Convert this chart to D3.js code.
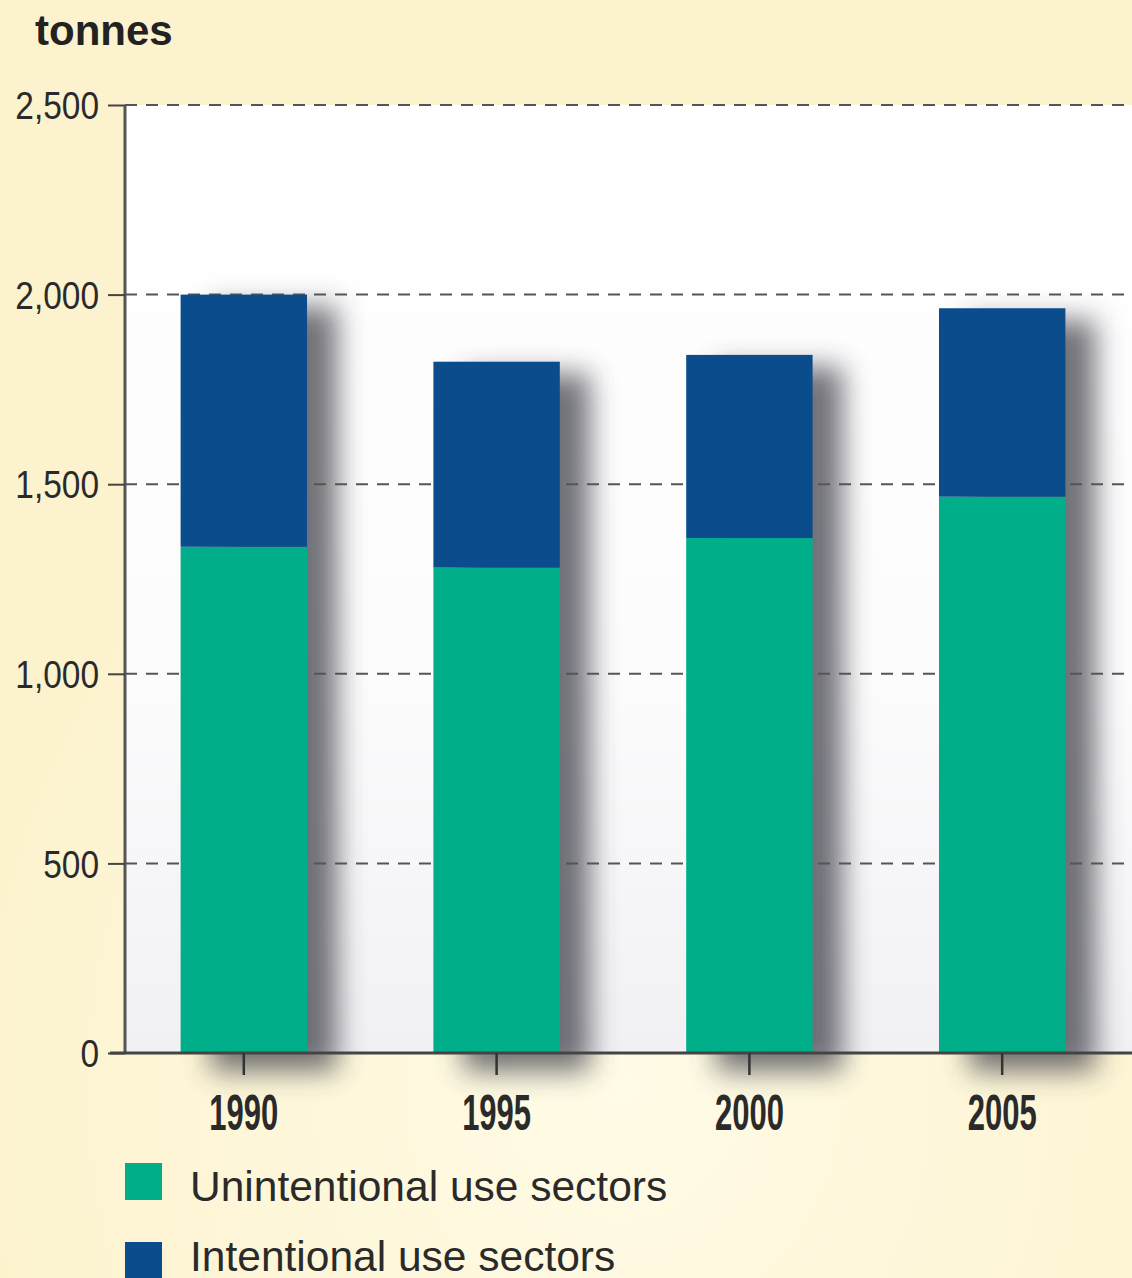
<!DOCTYPE html>
<html>
<head>
<meta charset="utf-8">
<script src="https://cdn.jsdelivr.net/npm/d3@7"></script>
<style>
  html, body { margin: 0; padding: 0; background: #fdf5d3; }
  svg { display: block; }
</style>
</head>
<body>
<svg id="chart" width="1132" height="1278"></svg>
<script>
// values (tonnes)
const years = ['1990', '1995', '2000', '2005'];
const unintentional = [1335, 1280, 1358, 1467];
const intentional = [665, 543, 483, 497];
const yTicks = [0, 500, 1000, 1500, 2000, 2500];
const seriesNames = ['Unintentional use sectors', 'Intentional use sectors'];
const seriesColors = ['#00af8a', '#0a4c8c'];

const svg = d3.select('#chart');
const width = 1132;
const height = 1278;

const plotLeft = 125;
const plotTop = 105;
const plotBottom = 1053;

const x = d3.scaleBand()
    .domain(years)
    .range([plotLeft, 1121])
    .paddingInner(0.5)
    .paddingOuter(0.22);

const y = d3.scaleLinear()
    .domain([0, 2500])
    .range([plotBottom, plotTop]);

// stacked layout built from the arrays
const rows = years.map((yr, i) => ({ year: yr, unintentional: unintentional[i], intentional: intentional[i] }));
const stack = d3.stack().keys(['unintentional', 'intentional'])(rows);

const defs = svg.append('defs');

// plot background: white, going a touch grey towards the bottom
const bgGrad = defs.append('linearGradient')
    .attr('id', 'plotbg')
    .attr('x1', 0).attr('y1', 0).attr('x2', 0).attr('y2', 1);
bgGrad.append('stop').attr('offset', '0%').attr('stop-color', '#ffffff');
bgGrad.append('stop').attr('offset', '60%').attr('stop-color', '#fcfcfd');
bgGrad.append('stop').attr('offset', '100%').attr('stop-color', '#f1f1f4');

const pageGrad = defs.append('radialGradient')
    .attr('id', 'pagebg')
    .attr('cx', '55%').attr('cy', '85%').attr('r', '60%');
pageGrad.append('stop').attr('offset', '0%').attr('stop-color', '#fffbe6');
pageGrad.append('stop').attr('offset', '100%').attr('stop-color', '#fcf2cd');

const blur = defs.append('filter')
    .attr('id', 'shadow')
    .attr('x', '-50%').attr('y', '-20%')
    .attr('width', '200%').attr('height', '140%');
blur.append('feGaussianBlur').attr('stdDeviation', 14);

svg.append('rect')
    .attr('width', width)
    .attr('height', height)
    .attr('fill', 'url(#pagebg)');

svg.append('rect')
    .attr('x', plotLeft)
    .attr('y', plotTop)
    .attr('width', width - plotLeft)
    .attr('height', plotBottom - plotTop)
    .attr('fill', 'url(#plotbg)');

// soft shadows behind the bars
svg.append('g')
    .selectAll('rect')
    .data(rows)
    .join('rect')
    .attr('x', d => x(d.year) + 30)
    .attr('y', d => y(d.unintentional + d.intentional) + 12)
    .attr('width', x.bandwidth())
    .attr('height', d => plotBottom - y(d.unintentional + d.intentional) + 6)
    .attr('fill', '#3a3a44')
    .attr('opacity', 0.72)
    .attr('filter', 'url(#shadow)');

// dashed grid lines
svg.append('g')
    .selectAll('line')
    .data(yTicks.filter(t => t > 0))
    .join('line')
    .attr('x1', plotLeft)
    .attr('x2', width)
    .attr('y1', d => y(d))
    .attr('y2', d => y(d))
    .attr('stroke', '#555')
    .attr('stroke-width', 2)
    .attr('stroke-dasharray', '12,9');

// bars
svg.append('g')
    .selectAll('g')
    .data(stack)
    .join('g')
    .attr('fill', (d, i) => seriesColors[i])
    .selectAll('rect')
    .data(d => d)
    .join('rect')
    .attr('x', d => x(d.data.year))
    .attr('y', d => y(d[1]))
    .attr('width', x.bandwidth())
    .attr('height', d => y(d[0]) - y(d[1]));

const fontFamily = '"Liberation Sans", Arial, sans-serif';

// y axis, labels squeezed horizontally like the narrow face of the original
const yAxis = svg.append('g')
    .attr('transform', `translate(${plotLeft},0)`)
    .call(d3.axisLeft(y).tickValues(yTicks).tickFormat(d3.format(',')).tickSize(17));
yAxis.select('.domain').attr('stroke', '#555').attr('stroke-width', 3).attr('d', `M0,${plotTop}V${plotBottom}`);
yAxis.selectAll('.tick line').attr('stroke', '#444').attr('stroke-width', 2);
yAxis.selectAll('.tick text')
    .attr('x', 0)
    .attr('dy', '0.36em')
    .attr('transform', 'translate(-26,0) scale(0.88,1)')
    .attr('fill', '#2a2a2a')
    .style('font-family', fontFamily)
    .style('font-size', '38px');

// x axis
const xAxis = svg.append('g')
    .attr('transform', `translate(0,${plotBottom})`)
    .call(d3.axisBottom(x).tickSize(22));
xAxis.select('.domain').attr('stroke', '#444').attr('stroke-width', 3).attr('d', `M110,0H${width}`);
xAxis.selectAll('.tick line').attr('stroke', '#333').attr('stroke-width', 2.5);
xAxis.selectAll('.tick text')
    .attr('y', 0)
    .attr('dy', 0)
    .attr('transform', 'translate(0,77) scale(0.62,1)')
    .attr('fill', '#2a2a2a')
    .style('font-family', fontFamily)
    .style('font-weight', 'bold')
    .style('font-size', '50px');

// unit label
svg.append('text')
    .attr('x', 35)
    .attr('y', 45)
    .attr('fill', '#222')
    .style('font-family', fontFamily)
    .style('font-weight', 'bold')
    .style('font-size', '42px')
    .text('tonnes');

// legend
const legendSquares = [1163, 1242];
const legendBaselines = [1201, 1271];
const legend = svg.append('g')
    .selectAll('g')
    .data(seriesNames)
    .join('g');
legend.append('rect')
    .attr('x', 125)
    .attr('y', (d, i) => legendSquares[i])
    .attr('width', 37)
    .attr('height', 37)
    .attr('fill', (d, i) => seriesColors[i]);
legend.append('text')
    .attr('x', 190)
    .attr('y', (d, i) => legendBaselines[i])
    .attr('fill', '#2a2a2a')
    .style('font-family', fontFamily)
    .style('font-size', '42.5px')
    .text(d => d);
</script>
</body>
</html>
